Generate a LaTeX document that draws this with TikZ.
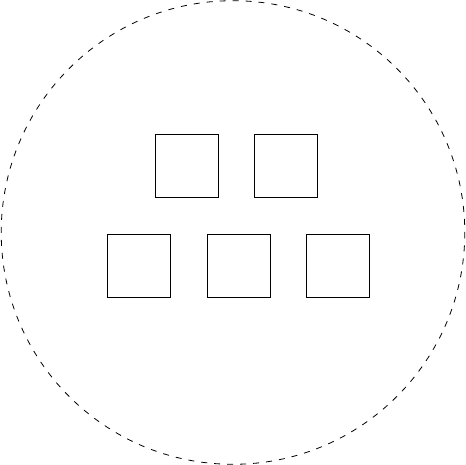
\documentclass[tikz,border=0pt]{standalone}
\begin{document}
\begin{tikzpicture}[x=1pt,y=-1pt,
  box/.style={draw, line width=0.8pt, minimum size=63pt, inner sep=0pt, anchor=north west},
  ring/.style={draw, line width=0.8pt, dash pattern=on 6pt off 7pt}]
\useasboundingbox (0,0) rectangle (466,465);
\draw[ring] (233,232.5) circle[radius=231.8];
\node[box] (t1) at (154.5,134.5) {};
\node[box] (t2) at (254,134.5) {};
\node[box] (b1) at (107.3,234.3) {};
\node[box] (b2) at (206.8,234.3) {};
\node[box] (b3) at (306,234.3) {};
\end{tikzpicture}
\end{document}
